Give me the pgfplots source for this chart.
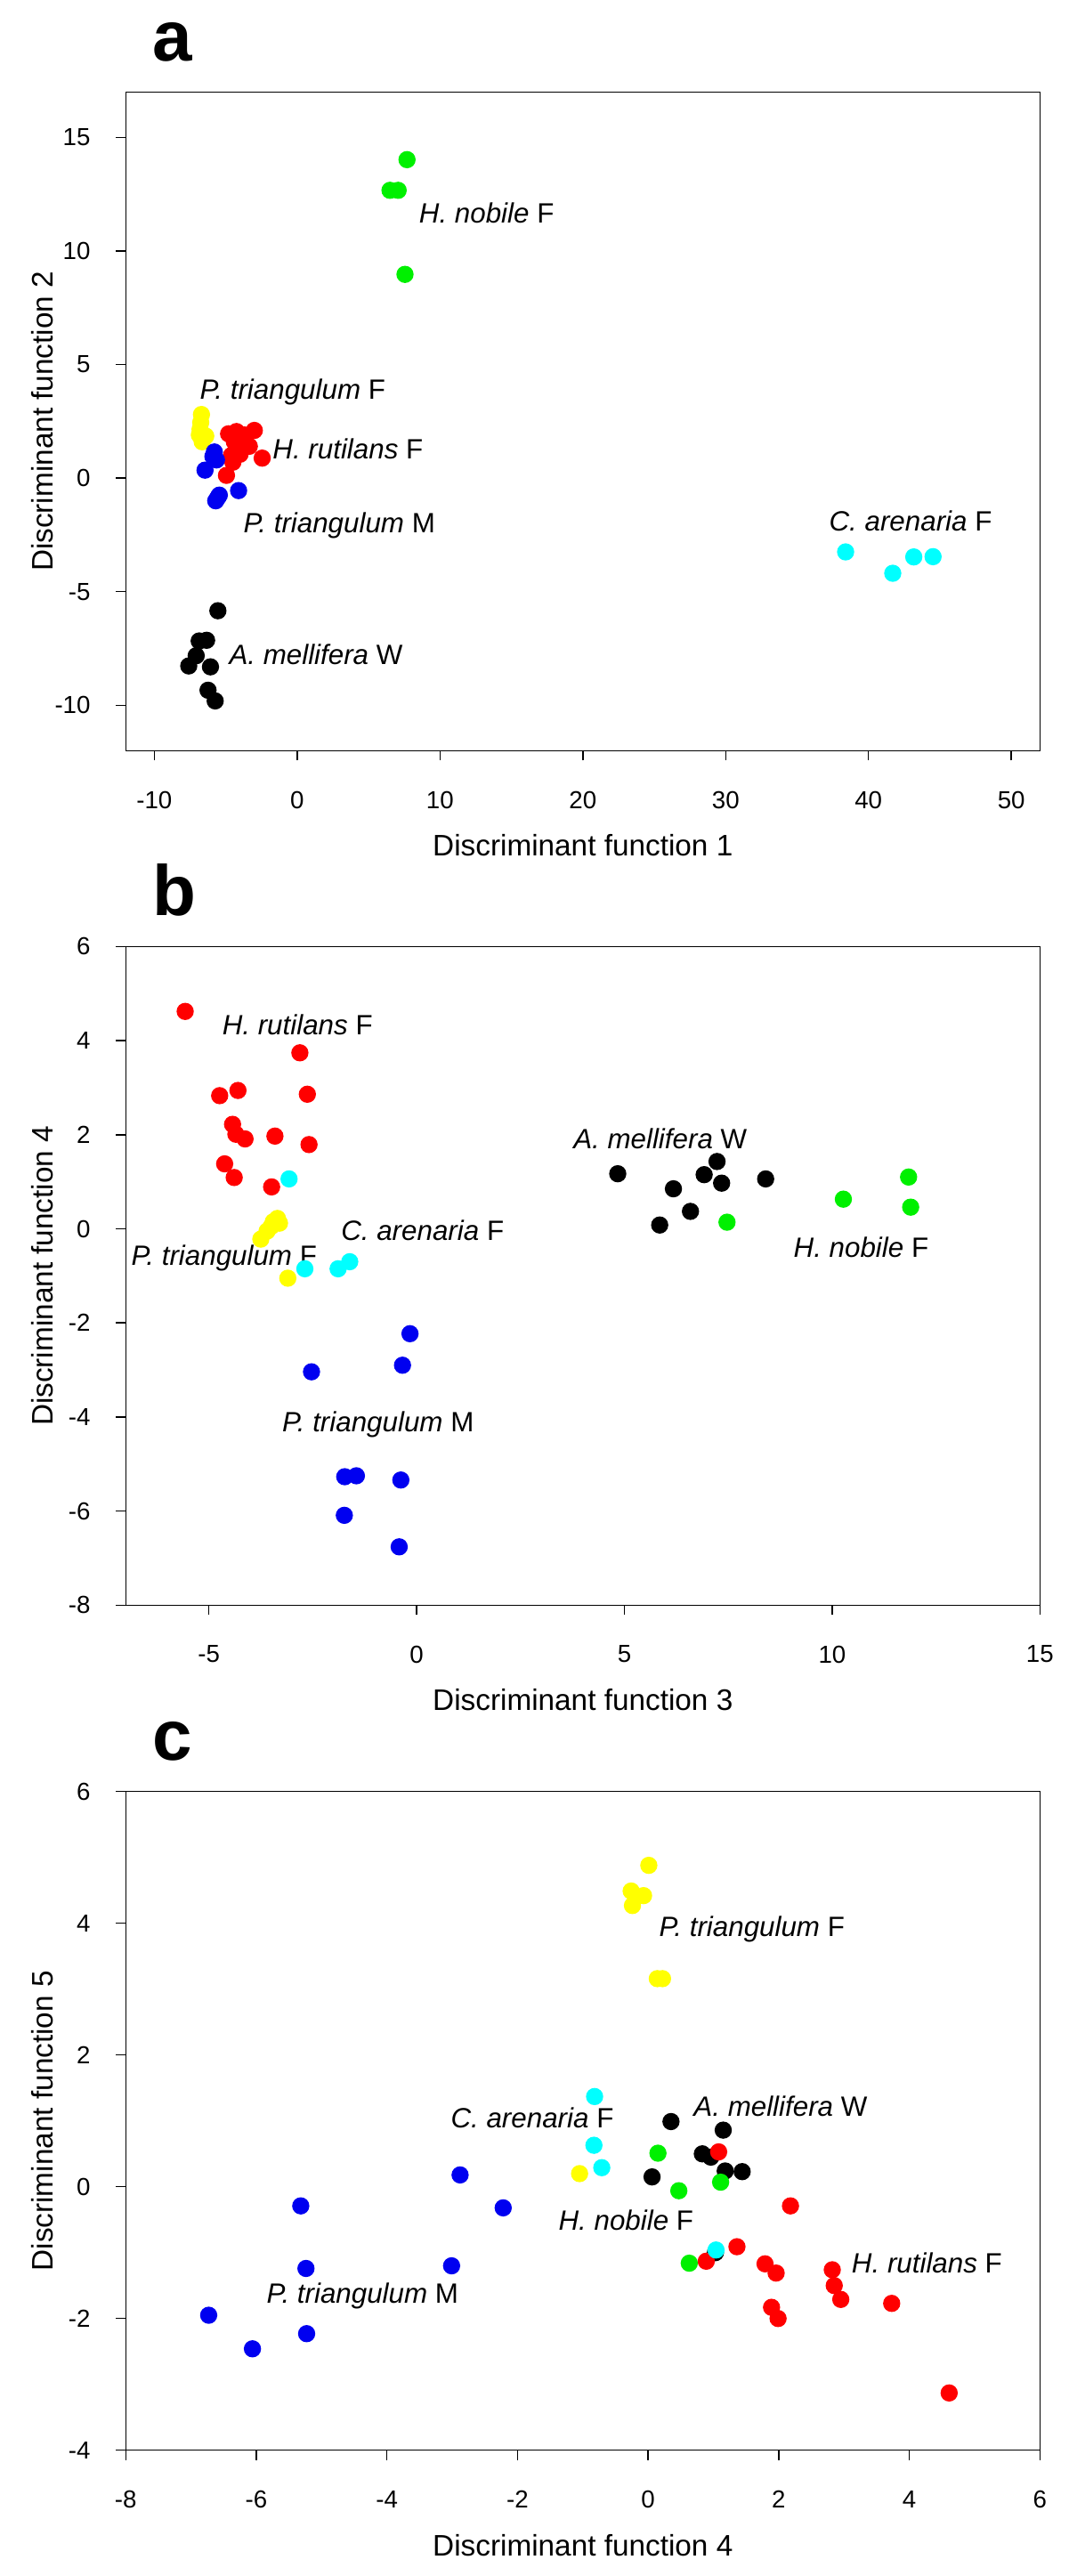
\documentclass[border=0pt]{standalone}
\usepackage{fontspec}
\setmainfont{Liberation Sans}
\usepackage{pgfplots}
\pgfplotsset{compat=1.18}
\definecolor{cred}{RGB}{255,0,0}
\definecolor{cblue}{RGB}{0,0,240}
\definecolor{cgreen}{RGB}{0,240,0}
\definecolor{cyel}{RGB}{255,255,0}
\definecolor{ccyan}{RGB}{0,255,255}
\pgfplotsset{
  myax/.style={
    scale only axis, width=308.1pt, height=222pt,
    axis line style={line width=0.45pt},
    tick pos=left, tick align=outside, major tick length=3.3pt,
    tick style={black, line width=0.45pt},
    ticklabel style={font=\fontsize{8.3}{9}\selectfont},
    yticklabel style={xshift=-5.1pt},
    xticklabel style={yshift=-6.8pt},
    /pgf/number format/assume math mode=true,
    label style={font=\fontsize{10.35}{12}\selectfont},
    every axis x label/.style={at={(axis description cs:0.5,-0.16)}, anchor=base},
    every axis y label/.style={at={(axis description cs:-0.0792,0.5)}, rotate=90, anchor=base},
    clip=false,
    every axis plot/.append style={only marks, mark=*, mark size=2.7pt},
  },
}
\tikzset{
  ann/.style={anchor=base west, font=\fontsize{9.4}{11}\selectfont, inner sep=0pt},
  plet/.style={anchor=base west, font=\bfseries\fontsize{24}{24}\selectfont, inner sep=0pt},
}
\begin{document}
\begin{tikzpicture}
\path[use as bounding box] (0,0) rectangle (360pt,-868.2pt);
% ---------------- panel a
\begin{axis}[myax, at={(42.39pt,-252.99pt)}, anchor=south west,
  xmin=-12, xmax=52, ymin=-12, ymax=17,
  xtick={-10,0,10,20,30,40,50}, ytick={-10,-5,0,5,10,15},
  xlabel={Discriminant function 1}, ylabel={Discriminant function 2}]
\addplot[black, mark options={fill=black}] coordinates {(-5.55,-5.84) (-6.86,-7.17) (-6.34,-7.14) (-7.07,-7.82) (-7.59,-8.27) (-6.07,-8.31) (-6.24,-9.34) (-5.74,-9.81)};
\addplot[cgreen, mark options={fill=cgreen}] coordinates {(7.69,14.02) (6.5,12.67) (7.07,12.67) (7.55,8.97)};
\addplot[cyel, mark options={fill=cyel}] coordinates {(-6.7,2.8) (-6.75,2.45) (-6.8,2.15) (-6.85,1.9) (-6.4,1.85) (-6.65,1.6)};
\addplot[cred, mark options={fill=cred}] coordinates {(-4.8,1.95) (-4.25,2.05) (-3.0,2.1) (-3.6,1.55) (-3.35,1.4) (-2.45,0.88) (-4.0,1.05) (-4.5,0.7) (-4.95,0.12) (-4.4,1.6) (-3.9,1.35) (-4.6,1.0) (-3.7,1.9)};
\addplot[cblue, mark options={fill=cblue}] coordinates {(-5.8,1.15) (-5.65,0.8) (-5.9,0.95) (-6.45,0.35) (-4.1,-0.55) (-5.7,-1.0) (-5.45,-0.75) (-5.55,-0.85)};
\addplot[ccyan, mark options={fill=ccyan}] coordinates {(38.4,-3.25) (41.7,-4.19) (43.17,-3.47) (44.52,-3.46)};
\node[ann] at (axis cs:8.5,11.23) {\textit{H. nobile} F};
\node[ann] at (axis cs:-6.85,3.48) {\textit{P. triangulum} F};
\node[ann] at (axis cs:-1.75,0.86) {\textit{H. rutilans} F};
\node[ann] at (axis cs:-3.8,-2.4) {\textit{P. triangulum} M};
\node[ann] at (axis cs:37.21,-2.33) {\textit{C. arenaria} F};
\node[ann] at (axis cs:-4.8,-8.19) {\textit{A. mellifera} W};
\node[plet] at ([xshift=8.9pt,yshift=10.5pt]rel axis cs:0,1) {a};
\end{axis}
% ---------------- panel b
\begin{axis}[myax, at={(42.39pt,-540.99pt)}, anchor=south west,
  xmin=-7, xmax=15, ymin=-8, ymax=6,
  xtick={-5,0,5,10,15}, ytick={-8,-6,-4,-2,0,2,4,6},
  xlabel={Discriminant function 3}, ylabel={Discriminant function 4}]
\addplot[black, mark options={fill=black}] coordinates {(4.84,1.17) (6.18,0.85) (6.92,1.15) (7.23,1.43) (7.34,0.97) (8.40,1.06) (6.59,0.37) (5.85,0.08)};
\addplot[cgreen, mark options={fill=cgreen}] coordinates {(7.47,0.14) (10.27,0.63) (11.84,1.10) (11.89,0.46)};
\addplot[cred, mark options={fill=cred}] coordinates {(-5.57,4.62) (-2.81,3.74) (-4.74,2.83) (-4.30,2.94) (-2.63,2.86) (-4.43,2.22) (-4.35,2.01) (-4.13,1.91) (-3.41,1.97) (-2.59,1.79) (-4.62,1.38) (-4.39,1.09) (-3.49,0.89)};
\addplot[cyel, mark options={fill=cyel}] coordinates {(-3.35,0.22) (-3.3,0.12) (-3.45,0.15) (-3.5,0.05) (-3.6,-0.05) (-3.75,-0.22) (-3.1,-1.05)};
\addplot[cblue, mark options={fill=cblue}] coordinates {(-0.16,-2.23) (-0.34,-2.90) (-2.53,-3.04) (-1.73,-5.27) (-1.45,-5.25) (-0.38,-5.34) (-1.74,-6.09) (-0.42,-6.76)};
\addplot[ccyan, mark options={fill=ccyan}] coordinates {(-3.07,1.06) (-2.69,-0.85) (-1.89,-0.85) (-1.61,-0.70)};
\node[ann] at (axis cs:-4.69,4.13) {\textit{H. rutilans} F};
\node[ann] at (axis cs:3.76,1.70) {\textit{A. mellifera} W};
\node[ann] at (axis cs:-1.83,-0.25) {\textit{C. arenaria} F};
\node[ann] at (axis cs:-6.88,-0.77) {\textit{P. triangulum} F};
\node[ann] at (axis cs:9.06,-0.6) {\textit{H. nobile} F};
\node[ann] at (axis cs:-3.25,-4.31) {\textit{P. triangulum} M};
\node[plet] at ([xshift=8.9pt,yshift=10.5pt]rel axis cs:0,1) {b};
\end{axis}
% ---------------- panel c
\begin{axis}[myax, at={(42.39pt,-825.81pt)}, anchor=south west,
  xmin=-8, xmax=6, ymin=-4, ymax=6,
  xtick={-8,-6,-4,-2,0,2,4,6}, ytick={-4,-2,0,2,4,6},
  xlabel={Discriminant function 4}, ylabel={Discriminant function 5}]
\addplot[black, mark options={fill=black}] coordinates {(0.35,0.99) (1.15,0.86) (0.83,0.50) (0.96,0.45) (0.06,0.15) (1.18,0.24) (1.44,0.23) (1.03,-1.0)};
\addplot[cgreen, mark options={fill=cgreen}] coordinates {(0.15,0.51) (0.47,-0.06) (1.11,0.07) (0.63,-1.16)};
\addplot[cred, mark options={fill=cred}] coordinates {(1.08,0.53) (2.18,-0.29) (1.36,-0.91) (0.89,-1.13) (1.79,-1.17) (1.96,-1.31) (2.82,-1.26) (2.85,-1.50) (2.95,-1.71) (3.73,-1.77) (1.89,-1.83) (1.99,-2.0) (4.61,-3.13)};
\addplot[cyel, mark options={fill=cyel}] coordinates {(0.01,4.88) (-0.26,4.49) (-0.07,4.42) (-0.24,4.27) (0.14,3.16) (0.22,3.16) (-1.05,0.20)};
\addplot[cblue, mark options={fill=cblue}] coordinates {(-2.88,0.18) (-5.32,-0.29) (-2.22,-0.32) (-5.24,-1.24) (-3.01,-1.20) (-6.73,-1.95) (-5.23,-2.23) (-6.06,-2.46)};
\addplot[ccyan, mark options={fill=ccyan}] coordinates {(-0.82,1.37) (-0.83,0.63) (-0.71,0.29) (1.04,-0.96)};
\node[ann] at (axis cs:0.16,3.80) {\textit{P. triangulum} F};
\node[ann] at (axis cs:-3.03,0.90) {\textit{C. arenaria} F};
\node[ann] at (axis cs:0.69,1.07) {\textit{A. mellifera} W};
\node[ann] at (axis cs:-1.38,-0.66) {\textit{H. nobile} F};
\node[ann] at (axis cs:3.11,-1.31) {\textit{H. rutilans} F};
\node[ann] at (axis cs:-5.85,-1.77) {\textit{P. triangulum} M};
\node[plet] at ([xshift=8.9pt,yshift=10.5pt]rel axis cs:0,1) {c};
\end{axis}
\end{tikzpicture}
\end{document}
